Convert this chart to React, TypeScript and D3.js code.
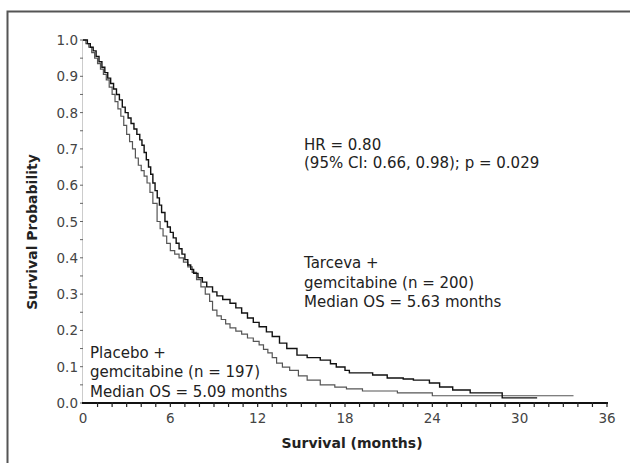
import * as d3 from "d3";
import React, {useEffect, useRef} from "react";

// Kaplan-Meier steps (months, survival probability)
const tarcevaTime = [0, 0.3, 0.5, 0.7, 0.9, 1.1, 1.3, 1.5, 1.7, 1.9, 2.1, 2.3, 2.5, 2.7, 2.9, 3.1, 3.3, 3.5, 3.7, 3.9, 4.05, 4.2, 4.35, 4.5, 4.65, 4.8, 4.95, 5.1, 5.25, 5.4, 5.63, 5.8, 6.0, 6.2, 6.4, 6.6, 6.8, 7.0, 7.2, 7.4, 7.6, 7.9, 8.2, 8.5, 8.9, 9.2, 9.6, 10.1, 10.5, 10.9, 11.3, 11.7, 12.1, 12.6, 13.0, 13.5, 14.0, 14.7, 15.4, 16.3, 17.0, 17.4, 18.0, 18.3, 19.9, 20.9, 22.0, 22.7, 23.8, 24.5, 25.4, 26.6, 28.8, 31.2]
const tarcevaSurv = [1.0, 0.99, 0.98, 0.97, 0.955, 0.94, 0.925, 0.91, 0.895, 0.88, 0.865, 0.85, 0.835, 0.815, 0.80, 0.785, 0.77, 0.755, 0.74, 0.725, 0.71, 0.69, 0.67, 0.65, 0.63, 0.606, 0.585, 0.565, 0.545, 0.525, 0.50, 0.485, 0.47, 0.455, 0.44, 0.425, 0.41, 0.395, 0.38, 0.368, 0.357, 0.345, 0.333, 0.32, 0.306, 0.295, 0.285, 0.275, 0.262, 0.248, 0.234, 0.222, 0.21, 0.196, 0.183, 0.165, 0.15, 0.132, 0.125, 0.118, 0.108, 0.099, 0.09, 0.083, 0.077, 0.069, 0.066, 0.063, 0.055, 0.044, 0.036, 0.028, 0.014, 0.014]

const placeboTime = [0, 0.2, 0.4, 0.6, 0.8, 1.0, 1.2, 1.4, 1.6, 1.8, 2.0, 2.2, 2.4, 2.6, 2.8, 3.0, 3.2, 3.4, 3.6, 3.8, 4.0, 4.2, 4.4, 4.6, 4.8, 5.09, 5.3, 5.5, 5.75, 6.0, 6.3, 6.6, 6.9, 7.2, 7.5, 7.8, 8.1, 8.4, 8.7, 8.9, 9.2, 9.5, 9.8, 10.1, 10.5, 10.9, 11.3, 11.7, 12.1, 12.4, 12.7, 13.0, 13.3, 13.7, 14.2, 14.8, 15.4, 16.3, 17.3, 18.1, 19.2, 21.6, 24.0, 33.7]
const placeboSurv = [1.0, 0.99, 0.98, 0.965, 0.95, 0.935, 0.92, 0.905, 0.89, 0.87, 0.85, 0.83, 0.81, 0.79, 0.765, 0.74, 0.72, 0.70, 0.675, 0.655, 0.64, 0.625, 0.606, 0.58, 0.55, 0.50, 0.48, 0.46, 0.44, 0.42, 0.41, 0.40, 0.388, 0.375, 0.36, 0.34, 0.32, 0.30, 0.28, 0.256, 0.24, 0.23, 0.218, 0.207, 0.198, 0.19, 0.179, 0.17, 0.16, 0.148, 0.138, 0.125, 0.11, 0.099, 0.09, 0.075, 0.063, 0.05, 0.044, 0.039, 0.033, 0.028, 0.02, 0.02]

const xTicks = [0, 6, 12, 18, 24, 30, 36]
const yTicks = [0, 0.1, 0.2, 0.3, 0.4, 0.5, 0.6, 0.7, 0.8, 0.9, 1.0]

const hrLines = ["HR = 0.80", "(95% CI: 0.66, 0.98); p = 0.029"]
const tarcevaLines = ["Tarceva +", "gemcitabine (n = 200)", "Median OS = 5.63 months"]
const placeboLines = ["Placebo +", "gemcitabine (n = 197)", "Median OS = 5.09 months"]

const W = 630
const H = 463
const FONT = "DejaVu Sans, Verdana, sans-serif"

const KMChart = () => {
    const ref = useRef(null)

    useEffect(() => {
        const svg = d3.select(ref.current)
        svg.selectAll("*").remove()

        const x = d3.scaleLinear().domain([0, 36]).range([83, 607])
        const y = d3.scaleLinear().domain([0, 1]).range([403, 40])

        svg.append("rect")
            .attr("x", 7.5).attr("y", 11.5)
            .attr("width", 650).attr("height", 480)
            .attr("fill", "none").attr("stroke", "#555").attr("stroke-width", 2)

        // y axis (faint line, small ticks)
        svg.append("line")
            .attr("x1", 82.5).attr("x2", 82.5)
            .attr("y1", y(1)).attr("y2", y(0))
            .attr("stroke", "#ccc").attr("stroke-width", 1)
        svg.append("g")
            .selectAll("line")
            .data(d3.range(0, 21).map(i => i * 0.05))
            .join("line")
            .attr("x1", 80).attr("x2", 83)
            .attr("y1", d => y(d)).attr("y2", d => y(d))
            .attr("stroke", "#666").attr("stroke-width", 1)
        svg.append("g")
            .selectAll("text")
            .data(yTicks)
            .join("text")
            .attr("x", 78).attr("y", d => y(d) + 5)
            .attr("text-anchor", "end")
            .attr("font-family", FONT)
            .attr("font-size", 13.5)
            .attr("fill", "#444")
            .text(d => d.toFixed(1))

        // x axis
        svg.append("line")
            .attr("x1", 82).attr("x2", 608)
            .attr("y1", 403).attr("y2", 403)
            .attr("stroke", "#111").attr("stroke-width", 2)
        svg.append("g")
            .selectAll("line")
            .data(d3.range(1, 37))
            .join("line")
            .attr("x1", d => x(d)).attr("x2", d => x(d))
            .attr("y1", 402).attr("y2", 407)
            .attr("stroke", "#222").attr("stroke-width", 1.2)
        svg.append("g")
            .selectAll("text")
            .data(xTicks)
            .join("text")
            .attr("x", d => x(d)).attr("y", 423)
            .attr("text-anchor", "middle")
            .attr("font-family", FONT)
            .attr("font-size", 13.5)
            .attr("fill", "#444")
            .text(d => d)

        svg.append("text")
            .attr("x", 352).attr("y", 448)
            .attr("text-anchor", "middle")
            .attr("font-family", FONT)
            .attr("font-size", 14).attr("font-weight", "bold")
            .attr("fill", "#222")
            .text("Survival (months)")
        svg.append("text")
            .attr("transform", "translate(37,232) rotate(-90)")
            .attr("text-anchor", "middle")
            .attr("font-family", FONT)
            .attr("font-size", 14).attr("font-weight", "bold")
            .attr("fill", "#222")
            .text("Survival Probability")

        const line = d3.line()
            .x(d => x(d[0]))
            .y(d => y(d[1]))
            .curve(d3.curveStepAfter)

        svg.append("path")
            .datum(d3.zip(placeboTime, placeboSurv))
            .attr("d", line)
            .attr("fill", "none")
            .attr("stroke", "#555").attr("stroke-width", 1.2)

        svg.append("path")
            .datum(d3.zip(tarcevaTime, tarcevaSurv))
            .attr("d", line)
            .attr("fill", "none")
            .attr("stroke", "#111").attr("stroke-width", 1.4)

        const block = (lines, x0, baselines) => {
            svg.append("g")
                .selectAll("text")
                .data(lines)
                .join("text")
                .attr("x", x0)
                .attr("y", (d, i) => baselines[i])
                .attr("font-family", FONT)
                .attr("font-size", 15)
                .attr("fill", "#222")
                .text(d => d)
        }
        block(hrLines, 304, [150, 168])
        block(tarcevaLines, 304, [268, 288, 307])
        block(placeboLines, 90, [358, 377, 397])
    }, [])

    return <svg ref={ref} width={W} height={H}
                style={{position: "absolute", left: 0, top: 0, background: "#fff"}}/>
}

export default function App() {
    return <KMChart/>
}
